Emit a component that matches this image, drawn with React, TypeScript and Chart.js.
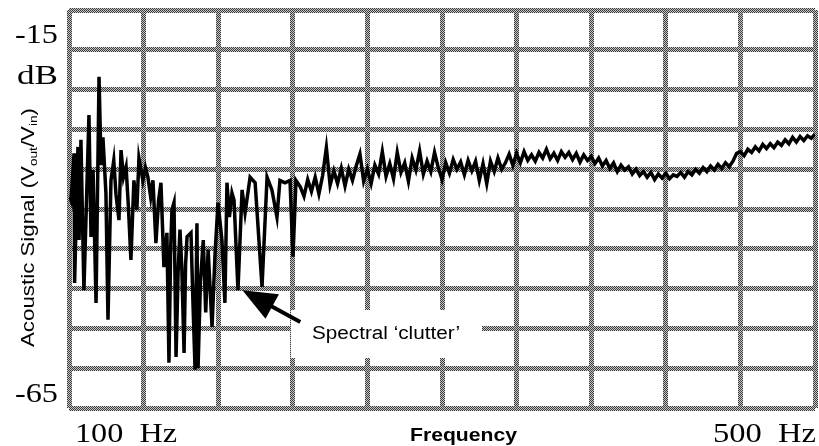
import React, { useEffect, useRef } from "react";
import { Chart, registerables } from "chart.js";

Chart.register(...registerables);

// Frequency axis range and dB range
const xRangeHz = [100, 500];
const yRangeDb = [-65, -15];
const xStepHz = 40;
const yStepDb = 5;

// Axis annotations (text)
const yTopLabel = "-15";
const yUnitLabel = "dB";
const yBottomLabel = "-65";
const xLeftLabel = "100  Hz";
const xRightLabel = "500  Hz";
const xTitle = "Frequency";
const calloutText = "Spectral \u2018clutter\u2019";

// Low-frequency "clutter" region
const clutterHz = [
  100.5, 101.1, 102.7, 103.0, 104.8, 105.4, 106.4, 108.0, 109.5, 110.7,
  111.8, 112.9, 114.5, 116.1, 117.2, 118.2, 119.8, 120.9, 122.5, 124.0,
  125.2, 126.8, 127.9, 129.2, 130.6, 131.8, 133.2, 134.8, 136.4, 137.5,
  139.6, 141.0, 142.3, 143.8, 145.0, 146.6, 148.0, 149.3, 150.9, 152.5,
  153.6, 154.5, 155.2, 156.3, 157.4, 158.5, 159.5, 160.5, 161.7, 162.5,
  163.3, 165.4, 166.5, 167.6, 168.6, 169.2, 170.5, 172.0, 173.3, 174.6,
  176.7, 178.3, 179.9, 182.0, 183.6, 184.7, 186.0, 187.4, 188.5, 190.6,
  192.8, 194.4, 197.1, 199.8, 203.5, 206.2, 208.8, 211.5, 213.1, 215.8,
  218.5, 220.1, 221.7,
];
const clutterDb = [
  -38.5, -38.9, -33.0, -49.3, -32.2, -43.9, -31.3, -50.2, -38.0, -28.2,
  -43.5, -35.1, -51.8, -23.4, -34.5, -31.0, -38.0, -53.9, -36.4, -33.9,
  -38.2, -41.4, -32.6, -36.0, -34.7, -39.5, -46.4, -36.4, -40.1, -33.6,
  -36.4, -34.8, -36.0, -38.5, -36.4, -44.3, -39.0, -36.7, -47.3, -43.0,
  -59.3, -45.0, -40.1, -39.2, -58.6, -48.0, -42.6, -47.5, -58.1, -47.0,
  -43.5, -43.0, -52.0, -60.2, -41.8, -60.0, -49.0, -43.9, -53.0, -45.1,
  -54.8, -45.7, -39.2, -43.9, -51.8, -36.7, -41.0, -38.0, -38.9, -50.2,
  -37.6, -40.5, -36.0, -36.7, -49.8, -36.0, -37.6, -41.0, -36.4, -36.7,
  -36.4, -46.0, -36.4,
];

// Higher-frequency plateau region
const plateauHz = [
  224, 226, 228, 230, 232, 234, 236, 238, 240, 242,
  244, 246, 248, 250, 252, 254, 256, 258, 260, 262,
  264, 266, 268, 270, 272, 274, 276, 278, 280, 282,
  284, 286, 288, 290, 292, 294, 296, 298, 300, 302,
  304, 306, 308, 310, 312, 314, 316, 318, 320, 322,
  324, 326, 328, 330, 332, 334, 336, 338, 340, 342,
  344, 346, 348, 350, 352, 354, 356, 358, 360, 362,
  364, 366, 368, 370, 372, 374, 376, 378, 380, 382,
  384, 386, 388, 390, 392, 394, 396, 398, 400, 402,
  404, 406, 408, 410, 412, 414, 416, 418, 420, 422,
  424, 426, 428, 430, 432, 434, 436, 438, 440, 442,
  444, 446, 448, 450, 452, 454, 456, 458, 460, 462,
  464, 466, 468, 470, 472, 474, 476, 478, 480, 482,
  484, 486, 488, 490, 492, 494, 496, 498, 500,
];
const plateauDb = [
  -37.2, -38.4, -36.3, -37.8, -36.0, -38.1, -35.8, -32.3, -37.0, -35.2,
  -36.8, -34.9, -37.1, -35.0, -36.4, -34.6, -33.1, -36.5, -35.0, -36.8,
  -34.5, -35.6, -32.8, -35.9, -34.3, -36.2, -32.9, -35.4, -34.2, -36.5,
  -33.6, -35.1, -32.7, -35.6, -34.0, -35.3, -32.9, -34.8, -36.3, -34.2,
  -35.5, -33.8, -35.0, -34.1, -35.7, -33.9, -35.2, -34.0, -36.4, -34.3,
  -36.8, -34.0, -35.3, -33.6, -35.0, -34.2, -33.1, -34.5, -33.0, -34.2,
  -32.8, -33.9, -33.2, -34.0, -32.9, -33.6, -32.5, -33.7, -33.0, -33.9,
  -32.8, -33.5, -32.9, -33.8, -33.0, -34.1, -33.2, -33.9, -33.4, -34.3,
  -33.6, -34.6, -33.9, -34.9, -34.2, -35.3, -34.5, -35.1, -34.7, -35.6,
  -35.0, -35.8, -35.3, -36.0, -35.4, -36.3, -35.6, -36.1, -35.5, -36.2,
  -35.7, -35.9, -35.4, -36.0, -35.3, -35.7, -35.0, -35.5, -34.8, -35.3,
  -34.6, -35.1, -34.4, -34.9, -34.2, -34.7, -34.0, -33.0, -32.8, -33.3,
  -32.5, -32.9, -32.2, -32.7, -31.9, -32.4, -31.8, -32.3, -31.6, -32.0,
  -31.3, -31.8, -31.0, -31.6, -30.9, -31.4, -30.8, -31.1, -30.6,
];

// Callout arrow: tip and tail in data coordinates
const arrowTip = [193, -50.2];
const arrowTail = [224, -54.2];

function drawStretched(
  ctx: CanvasRenderingContext2D,
  text: string,
  left: number,
  baseline: number,
  font: string,
  width: number
) {
  ctx.save();
  ctx.font = font;
  ctx.textAlign = "left";
  ctx.textBaseline = "alphabetic";
  const w = ctx.measureText(text).width;
  ctx.translate(left, baseline);
  ctx.scale(width / w, 1);
  ctx.fillStyle = "#000";
  ctx.fillText(text, 0, 0);
  ctx.restore();
}

const overlayPlugin = {
  id: "overlay",
  afterDraw(chart: any) {
    const ctx: CanvasRenderingContext2D = chart.ctx;
    const xs = chart.scales.x;
    const ys = chart.scales.y;
    const serif = "27px 'Liberation Serif', 'Times New Roman', serif";
    const sans = "18px 'Liberation Sans', Arial, sans-serif";
    const sansBold = "bold 18px 'Liberation Sans', Arial, sans-serif";

    drawStretched(ctx, yTopLabel, 15, 43, serif, 43);
    drawStretched(ctx, yUnitLabel, 17, 84, serif, 41);
    drawStretched(ctx, yBottomLabel, 15, 402, serif, 43);
    drawStretched(ctx, xLeftLabel, 75, 442, serif, 102);
    drawStretched(ctx, xRightLabel, 713, 442, serif, 103);
    drawStretched(ctx, xTitle, 410, 441, sansBold, 107);

    // Y axis title with subscripts, rotated
    const segs = [
      { t: "Acoustic Signal (V", sub: false },
      { t: "out", sub: true },
      { t: "/V", sub: false },
      { t: "in", sub: true },
      { t: ")", sub: false },
    ];
    const subFont = "11px 'Liberation Sans', Arial, sans-serif";
    ctx.save();
    let total = 0;
    for (const s of segs) {
      ctx.font = s.sub ? subFont : sans;
      total += ctx.measureText(s.t).width;
    }
    const target = 239;
    ctx.translate(34, 347);
    ctx.rotate(-Math.PI / 2);
    ctx.scale(target / total, 1);
    ctx.fillStyle = "#000";
    ctx.textBaseline = "alphabetic";
    ctx.textAlign = "left";
    let cx = 0;
    for (const s of segs) {
      ctx.font = s.sub ? subFont : sans;
      ctx.fillText(s.t, cx, s.sub ? 3 : 0);
      cx += ctx.measureText(s.t).width;
    }
    ctx.restore();

    // White box behind the callout text
    ctx.save();
    ctx.fillStyle = "#fff";
    ctx.fillRect(291, 310, 191, 48);
    ctx.restore();
    drawStretched(ctx, calloutText, 312, 339, sans, 148);

    // Arrow
    const tx = xs.getPixelForValue(arrowTip[0]);
    const ty = ys.getPixelForValue(arrowTip[1]);
    const sx = xs.getPixelForValue(arrowTail[0]);
    const sy = ys.getPixelForValue(arrowTail[1]);
    const dx = tx - sx;
    const dy = ty - sy;
    const len = Math.hypot(dx, dy);
    const ux = dx / len;
    const uy = dy / len;
    const headLen = 34;
    const headHalf = 14;
    const bx = tx - ux * headLen;
    const by = ty - uy * headLen;
    ctx.save();
    ctx.strokeStyle = "#000";
    ctx.lineWidth = 4;
    ctx.beginPath();
    ctx.moveTo(sx, sy);
    ctx.lineTo(bx + ux * 4, by + uy * 4);
    ctx.stroke();
    ctx.fillStyle = "#000";
    ctx.beginPath();
    ctx.moveTo(tx, ty);
    ctx.lineTo(bx - uy * headHalf, by + ux * headHalf);
    ctx.lineTo(bx + uy * headHalf, by - ux * headHalf);
    ctx.closePath();
    ctx.fill();
    ctx.restore();
  },
};

export default function App() {
  const canvasRef = useRef<HTMLCanvasElement | null>(null);

  useEffect(() => {
    const canvas = canvasRef.current;
    if (!canvas) return;
    const pc = document.createElement("canvas");
    pc.width = 2;
    pc.height = 2;
    const pctx = pc.getContext("2d")!;
    pctx.fillStyle = "#c8c8c8";
    pctx.fillRect(0, 0, 2, 2);
    pctx.fillStyle = "#3a3a3a";
    pctx.fillRect(0, 0, 1, 1);
    pctx.fillRect(1, 1, 1, 1);
    const ctx = canvas.getContext("2d")!;
    const pattern = ctx.createPattern(pc, "repeat");

    const points = [
      ...clutterHz.map((f, i) => ({ x: f, y: clutterDb[i] })),
      ...plateauHz.map((f, i) => ({ x: f, y: plateauDb[i] })),
    ];

    const chart = new Chart(canvas, {
      type: "line",
      data: {
        datasets: [
          {
            data: points,
            borderColor: "#000",
            borderWidth: 3.5,
            pointRadius: 0,
            tension: 0,
            fill: false,
          },
        ],
      },
      options: {
        animation: false,
        responsive: false,
        devicePixelRatio: 1,
        parsing: false,
        layout: { padding: { left: 69, top: 10, right: 4, bottom: 38 } },
        plugins: {
          legend: { display: false },
          tooltip: { enabled: false },
        },
        scales: {
          x: {
            type: "linear",
            min: xRangeHz[0],
            max: xRangeHz[1],
            ticks: { display: false, stepSize: xStepHz },
            border: { display: false },
            grid: { color: pattern as any, lineWidth: 5, drawTicks: false },
          },
          y: {
            type: "linear",
            min: yRangeDb[0],
            max: yRangeDb[1],
            ticks: { display: false, stepSize: yStepDb },
            border: { display: false },
            grid: { color: pattern as any, lineWidth: 5, drawTicks: false },
          },
        },
      },
      plugins: [overlayPlugin],
    });
    return () => chart.destroy();
  }, []);

  return (
    <div style={{ position: "absolute", left: 0, top: 0, width: 819, height: 446, background: "#fff" }}>
      <canvas ref={canvasRef} width={819} height={446} style={{ display: "block" }} />
    </div>
  );
}
